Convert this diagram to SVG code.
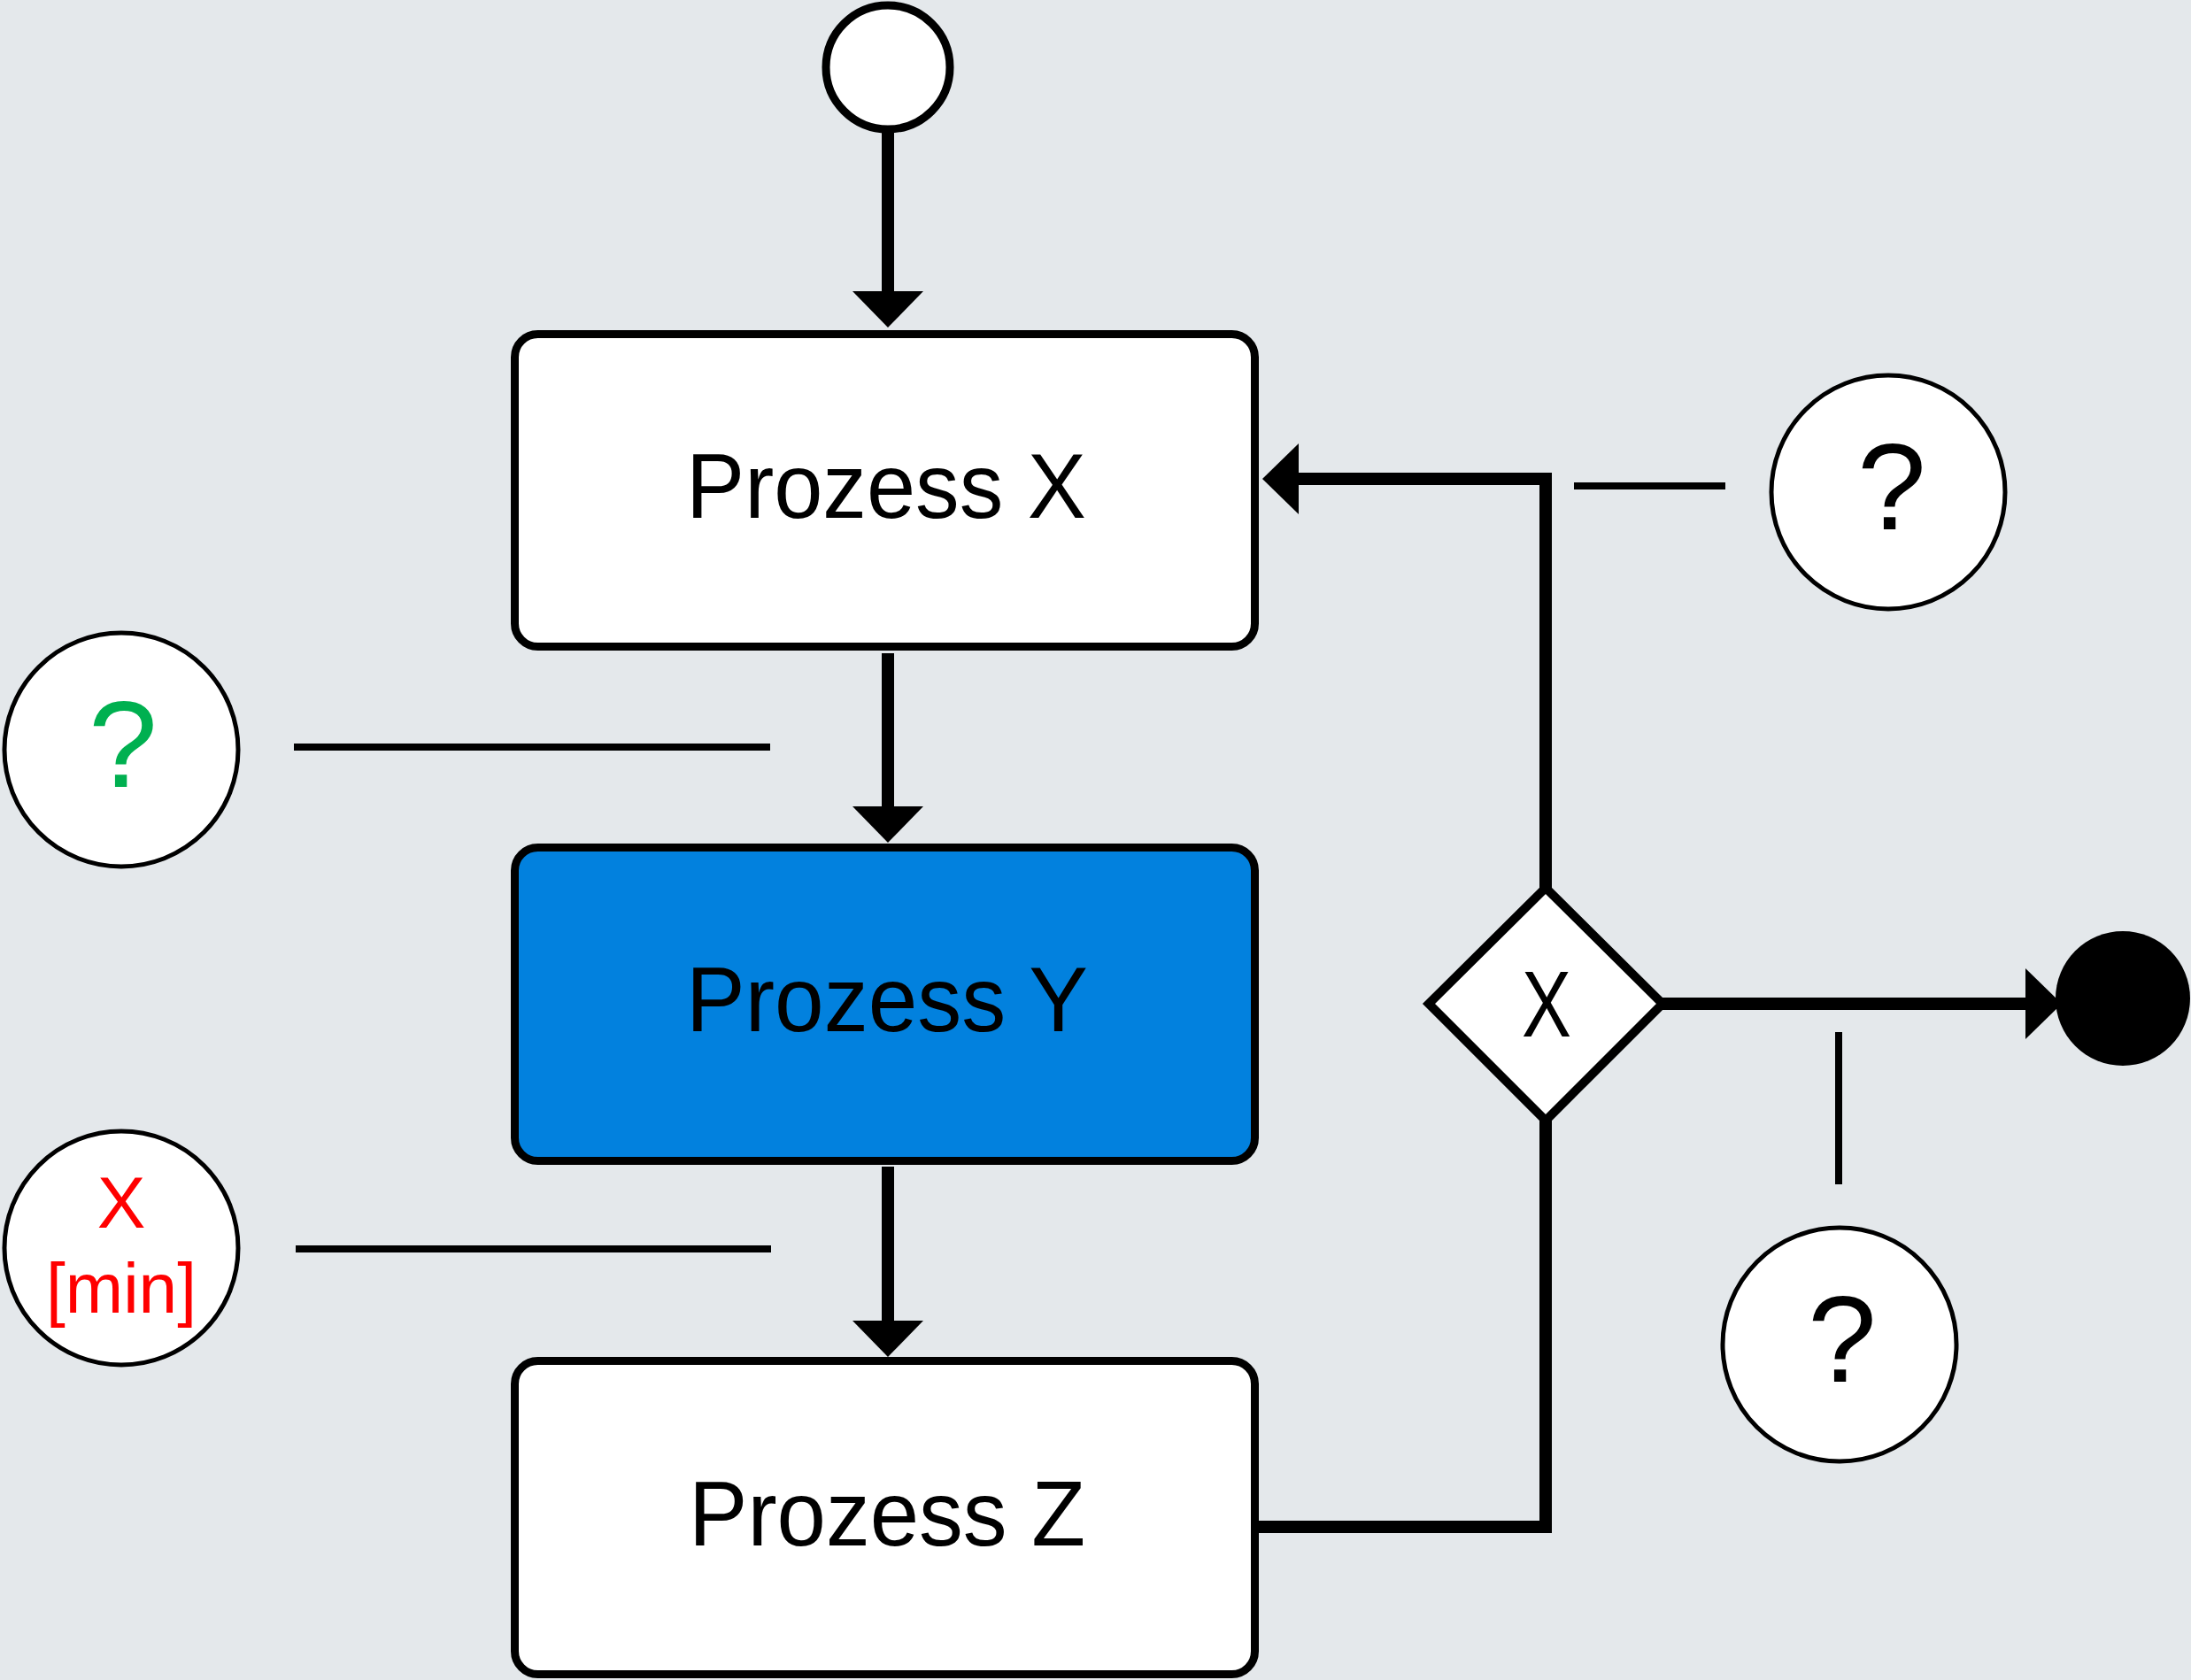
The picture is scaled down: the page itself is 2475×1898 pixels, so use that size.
<svg xmlns="http://www.w3.org/2000/svg" width="2475" height="1898" viewBox="0 0 2475 1898">
  <defs>
    <style>
      .box { stroke: #000; stroke-width: 9; }
      .lbl { font-family: "Liberation Sans", Arial, sans-serif; fill: #000; }
      .conn { fill: none; stroke: #000; stroke-width: 14; stroke-linejoin: miter; }
      .anno { fill: none; stroke: #000; stroke-width: 8; }
      .ann-circle { fill: #fff; stroke: #000; stroke-width: 5; }
    </style>
    <marker id="arrow" viewBox="0 -40 41 80" refX="2" refY="0" markerWidth="41" markerHeight="80" markerUnits="userSpaceOnUse" orient="auto">
      <path d="M0,-40 L41,0 L0,40 z" fill="#000"/>
    </marker>
  </defs>
  <rect x="0" y="0" width="2475" height="1898" fill="#E4E8EB"/>

  <g id="connectors">
    <line class="conn" x1="1003" y1="150" x2="1003" y2="331" marker-end="url(#arrow)"/>
    <line class="conn" x1="1003" y1="738" x2="1003" y2="913" marker-end="url(#arrow)"/>
    <line class="conn" x1="1003" y1="1318" x2="1003" y2="1494" marker-end="url(#arrow)"/>
    <path class="conn" d="M1746,1003 L1746,541 L1465,541" marker-end="url(#arrow)"/>
    <path class="conn" d="M1422,1725 L1746,1725 L1746,1266"/>
    <line class="conn" x1="1878" y1="1134" x2="2290" y2="1134" marker-end="url(#arrow)"/>
    <line class="anno" x1="332" y1="844" x2="870" y2="844"/>
    <line class="anno" x1="334" y1="1411" x2="871" y2="1411"/>
    <line class="anno" x1="1778" y1="549" x2="1949" y2="549"/>
    <line class="anno" x1="2077" y1="1166" x2="2077" y2="1338"/>
  </g>

  <g id="start">
    <circle cx="1003" cy="76" r="70" fill="#fff" stroke="#000" stroke-width="9"/>
  </g>

  <g id="prozess-x">
    <rect class="box" x="581.5" y="377.5" width="836" height="353" rx="26" fill="#fff"/>
    <text class="lbl" x="1001" y="585" font-size="103" text-anchor="middle" textLength="452" lengthAdjust="spacingAndGlyphs">Prozess X</text>
  </g>

  <g id="prozess-y">
    <rect class="box" x="581.5" y="957.5" width="836" height="354" rx="26" fill="#0281DE"/>
    <text class="lbl" x="1002" y="1165" font-size="103" text-anchor="middle" textLength="454" lengthAdjust="spacingAndGlyphs">Prozess Y</text>
  </g>

  <g id="prozess-z">
    <rect class="box" x="581.5" y="1537.5" width="836" height="354" rx="26" fill="#fff"/>
    <text class="lbl" x="1002" y="1746" font-size="103" text-anchor="middle" textLength="448" lengthAdjust="spacingAndGlyphs">Prozess Z</text>
  </g>

  <g id="gateway">
    <polygon points="1746,1003 1878,1134 1746,1266 1614,1134" fill="#fff" stroke="#000" stroke-width="10"/>
    <text class="lbl" x="1747" y="1171" font-size="106" text-anchor="middle" textLength="56" lengthAdjust="spacingAndGlyphs">X</text>
  </g>

  <g id="end">
    <circle cx="2398" cy="1128" r="76" fill="#000"/>
  </g>

  <g id="anno-green">
    <circle class="ann-circle" cx="137" cy="847" r="132"/>
    <text x="139" y="889" font-family="Liberation Sans, Arial, sans-serif" font-size="140" fill="#00B050" text-anchor="middle">?</text>
  </g>

  <g id="anno-time">
    <circle class="ann-circle" cx="137" cy="1410" r="132"/>
    <text x="137" y="1387" font-family="Liberation Sans, Arial, sans-serif" font-size="82" fill="#FF0000" text-anchor="middle">X</text>
    <text x="137" y="1483" font-family="Liberation Sans, Arial, sans-serif" font-size="80" fill="#FF0000" text-anchor="middle" textLength="170" lengthAdjust="spacingAndGlyphs">[min]</text>
  </g>

  <g id="anno-top-right">
    <circle class="ann-circle" cx="2133" cy="556" r="132"/>
    <text x="2137" y="598" font-family="Liberation Sans, Arial, sans-serif" font-size="140" fill="#000" text-anchor="middle">?</text>
  </g>

  <g id="anno-bottom-right">
    <circle class="ann-circle" cx="2078" cy="1519" r="132"/>
    <text x="2081" y="1561" font-family="Liberation Sans, Arial, sans-serif" font-size="140" fill="#000" text-anchor="middle">?</text>
  </g>
</svg>
